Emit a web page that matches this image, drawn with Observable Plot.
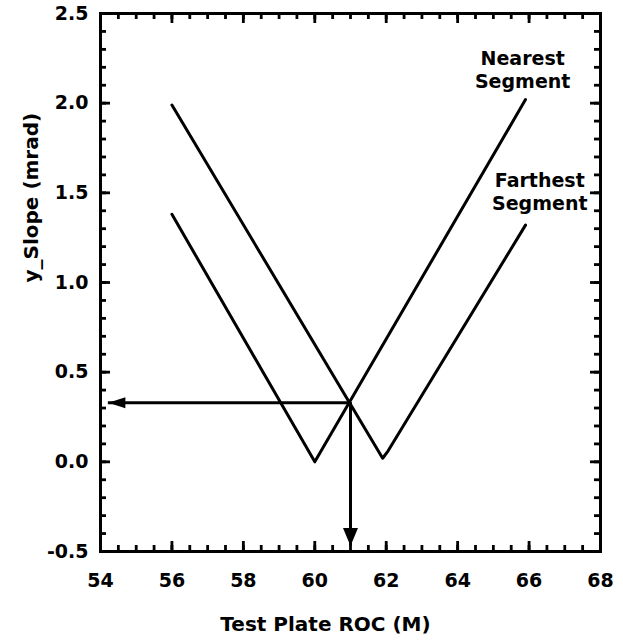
<!DOCTYPE html>
<html><head><meta charset="utf-8">
<script src="https://cdn.jsdelivr.net/npm/d3@7"></script>
<script src="https://cdn.jsdelivr.net/npm/@observablehq/plot@0.6"></script>
<style>body{margin:0;background:#fff}</style>
</head><body><div id="chart"></div>
<script>
// ---- data ----
const nearestX = [56, 60, 65.9];
const nearestY = [1.38, 0.0, 2.02];
const farthestX = [56, 61.75, 61.9, 62.05, 65.9];
const farthestY = [1.99, 0.07, 0.02, 0.06, 1.32];
const readX = 61;          // read-off ROC
const readY = 0.33;        // read-off slope
const arrowLeftX = 54.22;  // horizontal arrow tip
const arrowBottomY = -0.47;// vertical arrow tip
const xTickLabels = [54, 56, 58, 60, 62, 64, 66, 68];
const yTickLabels = [-0.5, 0.0, 0.5, 1.0, 1.5, 2.0, 2.5];
const xMinorTicks = d3.range(54, 68.001, 0.5);
const yMinorTicks = d3.range(-5, 26, 1).map(d => d / 10);
const labelTexts = ["Nearest\nSegment", "Farthest\nSegment"];
const labelX = [65.82, 66.3];
const labelY = [2.19, 1.51];
const xTitle = "Test Plate ROC (M)";
const yTitle = "y_Slope (mrad)";

// ---- tables ----
const nearest = nearestX.map((x, i) => ({x, y: nearestY[i]}));
const farthest = farthestX.map((x, i) => ({x, y: farthestY[i]}));
const labels = labelTexts.map((t, i) => ({x: labelX[i], y: labelY[i], t}));

const W = 623, H = 644, ML = 100, MR = 23, MT = 13, MB = 93;
const innerW = W - ML - MR, innerH = H - MT - MB;
const FONT = "DejaVu Sans, Liberation Sans, Arial, sans-serif";
const arrowDown = {draw(c) { c.moveTo(0, 0); c.lineTo(-7.5, -18); c.lineTo(7.5, -18); c.closePath(); }};
const arrowLeft = {draw(c) { c.moveTo(0, 0); c.lineTo(17, -5.5); c.lineTo(17, 5.5); c.closePath(); }};

const tk = {stroke: "#000", strokeWidth: 2.8};
const txt = {fontSize: 19, fontWeight: "bold", fill: "#000"};

const plot = Plot.plot({
  width: W,
  height: H,
  marginLeft: ML,
  marginRight: MR,
  marginTop: MT,
  marginBottom: MB,
  style: {fontFamily: FONT, fontWeight: "bold", color: "#000", background: "#fff"},
  x: {domain: [54, 68], axis: null},
  y: {domain: [-0.5, 2.5], axis: null},
  marks: [
    // inward ticks on four sides
    Plot.ruleX(xMinorTicks, {x: d => d, insetTop: innerH - 6, ...tk}),
    Plot.ruleX(xMinorTicks, {x: d => d, insetBottom: innerH - 6, ...tk}),
    Plot.ruleX(xTickLabels, {x: d => d, insetTop: innerH - 10, ...tk}),
    Plot.ruleX(xTickLabels, {x: d => d, insetBottom: innerH - 10, ...tk}),
    Plot.ruleY(yMinorTicks, {y: d => d, insetRight: innerW - 6, ...tk}),
    Plot.ruleY(yMinorTicks, {y: d => d, insetLeft: innerW - 6, ...tk}),
    Plot.ruleY(yTickLabels, {y: d => d, insetRight: innerW - 10, ...tk}),
    Plot.ruleY(yTickLabels, {y: d => d, insetLeft: innerW - 10, ...tk}),
    // tick labels
    Plot.text(xTickLabels, {x: d => d, frameAnchor: "bottom", dy: 35, text: d => String(d), ...txt}),
    Plot.text(yTickLabels, {y: d => d, frameAnchor: "left", dx: -12, textAnchor: "end", text: d => d.toFixed(1), ...txt}),
    Plot.frame({stroke: "#000", strokeWidth: 3}),
    // curves
    Plot.line(nearest, {x: "x", y: "y", stroke: "#000", strokeWidth: 3}),
    Plot.line(farthest, {x: "x", y: "y", stroke: "#000", strokeWidth: 3}),
    // read-off arrows
    Plot.ruleY([readY], {x1: readX, x2: arrowLeftX, stroke: "#000", strokeWidth: 3}),
    Plot.ruleX([readX], {y1: readY, y2: arrowBottomY, stroke: "#000", strokeWidth: 3}),
    Plot.dot([readY], {x: arrowLeftX, y: d => d, symbol: arrowLeft, r: 5, fill: "#000", stroke: null}),
    Plot.dot([readX], {x: d => d, y: arrowBottomY, symbol: arrowDown, r: 5, fill: "#000", stroke: null}),
    // labels
    Plot.text(labels, {x: "x", y: "y", text: "t", fontSize: 19, fontWeight: "bold", fill: "#000", lineHeight: 1.2, lineAnchor: "middle"}),
    Plot.text([xTitle], {frameAnchor: "bottom", text: d => d, dx: -25, dy: 79, fontSize: 20, fontWeight: "bold", fill: "#000"}),
    Plot.text([yTitle], {frameAnchor: "left", text: d => d, rotate: -90, dx: -69, fontSize: 20, fontWeight: "bold", fill: "#000"})
  ]
});
document.getElementById("chart").appendChild(plot);
</script>
</body></html>
